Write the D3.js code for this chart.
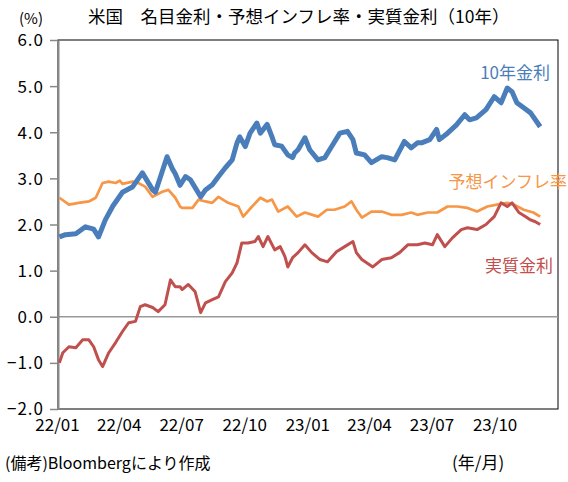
<!DOCTYPE html>
<html>
<head>
<meta charset="utf-8">
<script src="https://cdn.jsdelivr.net/npm/d3@7"></script>
<style>
  body { margin: 0; background: #fff; }
  svg text { font-family: "Noto Sans CJK JP", "Noto Sans", sans-serif; }
</style>
</head>
<body>
<svg id="chart" width="568" height="482"></svg>
<script>
"use strict";

// 10年金利 (nominal)
var nominal = [
  ["2022-01-03",1.73],["2022-01-12",1.78],["2022-01-27",1.80],["2022-02-10",1.95],["2022-02-22",1.90],
  ["2022-03-01",1.73],["2022-03-11",2.10],["2022-03-22",2.40],["2022-04-05",2.70],["2022-04-20",2.82],
  ["2022-05-04",3.12],["2022-05-19",2.75],["2022-05-23",2.70],["2022-06-09",3.47],["2022-06-17",3.20],
  ["2022-06-21",3.10],["2022-06-28",2.85],["2022-07-06",3.04],["2022-07-13",2.97],["2022-07-20",2.80],
  ["2022-07-28",2.60],["2022-08-04",2.75],["2022-08-14",2.86],["2022-08-23",3.04],["2022-09-02",3.23],
  ["2022-09-12",3.40],["2022-09-19",3.77],["2022-09-23",3.90],["2022-10-01",3.69],["2022-10-08",3.98],
  ["2022-10-18",4.20],["2022-10-23",3.98],["2022-11-02",4.17],["2022-11-09",3.90],["2022-11-13",3.73],
  ["2022-11-23",3.70],["2022-12-02",3.51],["2022-12-09",3.45],["2022-12-12",3.55],["2022-12-17",3.62],
  ["2022-12-27",3.88],["2023-01-03",3.62],["2023-01-15",3.40],["2023-01-25",3.45],["2023-02-04",3.69],
  ["2023-02-16",3.98],["2023-02-27",4.02],["2023-03-07",3.84],["2023-03-12",3.55],["2023-03-24",3.51],
  ["2023-04-03",3.34],["2023-04-18",3.47],["2023-04-26",3.45],["2023-05-07",3.40],["2023-05-21",3.80],
  ["2023-05-31",3.66],["2023-06-09",3.77],["2023-06-15",3.77],["2023-06-27",3.84],["2023-07-07",4.06],
  ["2023-07-11",3.84],["2023-07-23",3.98],["2023-08-05",4.16],["2023-08-17",4.38],["2023-08-24",4.27],
  ["2023-09-03",4.31],["2023-09-17",4.49],["2023-09-29",4.77],["2023-10-09",4.64],["2023-10-18",4.96],
  ["2023-10-25",4.88],["2023-11-01",4.64],["2023-11-11",4.53],["2023-11-21",4.42],["2023-11-28",4.27],
  ["2023-12-05",4.12]
];

// 予想インフレ率 (breakeven)
var breakeven = [
  ["2022-01-03",2.58],["2022-01-17",2.43],["2022-01-31",2.47],["2022-02-15",2.50],["2022-02-25",2.58],
  ["2022-03-07",2.90],["2022-03-16",2.93],["2022-03-26",2.90],["2022-04-01",2.95],["2022-04-05",2.88],
  ["2022-04-20",2.93],["2022-04-28",2.90],["2022-05-08",2.82],["2022-05-19",2.60],["2022-06-02",2.71],
  ["2022-06-11",2.75],["2022-06-21",2.58],["2022-06-28",2.39],["2022-07-01",2.36],["2022-07-16",2.36],
  ["2022-07-25",2.54],["2022-08-04",2.50],["2022-08-14",2.47],["2022-08-23",2.60],["2022-09-06",2.47],
  ["2022-09-21",2.39],["2022-09-28",2.17],["2022-10-11",2.39],["2022-10-23",2.58],["2022-11-02",2.50],
  ["2022-11-09",2.54],["2022-11-18",2.28],["2022-12-02",2.39],["2022-12-15",2.17],["2022-12-27",2.26],
  ["2023-01-15",2.17],["2023-01-28",2.32],["2023-02-08",2.32],["2023-02-23",2.39],["2023-03-05",2.50],
  ["2023-03-12",2.32],["2023-03-20",2.15],["2023-04-03",2.28],["2023-04-18",2.28],["2023-05-02",2.21],
  ["2023-05-17",2.21],["2023-05-31",2.26],["2023-06-09",2.21],["2023-06-24",2.26],["2023-07-08",2.26],
  ["2023-07-23",2.39],["2023-08-06",2.39],["2023-08-21",2.36],["2023-09-04",2.28],["2023-09-19",2.39],
  ["2023-10-03",2.43],["2023-10-18",2.47],["2023-10-28",2.43],["2023-11-11",2.32],["2023-11-25",2.26],
  ["2023-12-05",2.17]
];

// 実質金利 (real)
var real = [
  ["2022-01-03",-1.00],["2022-01-08",-0.78],["2022-01-17",-0.65],["2022-01-27",-0.67],["2022-02-06",-0.50],
  ["2022-02-15",-0.50],["2022-02-22",-0.65],["2022-03-01",-0.93],["2022-03-07",-1.08],["2022-03-16",-0.78],
  ["2022-03-26",-0.56],["2022-04-05",-0.32],["2022-04-14",-0.13],["2022-04-24",-0.10],["2022-05-01",0.22],
  ["2022-05-08",0.26],["2022-05-19",0.20],["2022-05-27",0.11],["2022-06-06",0.26],["2022-06-14",0.80],
  ["2022-06-21",0.65],["2022-06-28",0.65],["2022-07-01",0.59],["2022-07-10",0.70],["2022-07-20",0.54],
  ["2022-07-28",0.09],["2022-08-04",0.30],["2022-08-14",0.37],["2022-08-23",0.43],["2022-09-02",0.76],
  ["2022-09-12",0.95],["2022-09-19",1.17],["2022-09-26",1.60],["2022-10-05",1.60],["2022-10-15",1.63],
  ["2022-10-20",1.74],["2022-10-27",1.52],["2022-11-03",1.74],["2022-11-13",1.45],["2022-11-21",1.52],
  ["2022-11-28",1.30],["2022-12-02",1.08],["2022-12-09",1.28],["2022-12-17",1.39],["2022-12-27",1.56],
  ["2023-01-06",1.39],["2023-01-18",1.24],["2023-01-29",1.19],["2023-02-11",1.41],["2023-02-23",1.52],
  ["2023-03-07",1.63],["2023-03-12",1.39],["2023-03-20",1.24],["2023-04-05",1.08],["2023-04-18",1.24],
  ["2023-05-02",1.28],["2023-05-14",1.39],["2023-05-26",1.56],["2023-06-09",1.56],["2023-06-20",1.60],
  ["2023-07-01",1.56],["2023-07-08",1.78],["2023-07-19",1.52],["2023-07-30",1.71],["2023-08-12",1.89],
  ["2023-08-21",1.93],["2023-09-04",1.89],["2023-09-17",2.00],["2023-09-29",2.17],["2023-10-09",2.47],
  ["2023-10-18",2.39],["2023-10-25",2.47],["2023-11-04",2.26],["2023-11-14",2.17],["2023-11-21",2.10],
  ["2023-11-28",2.06],["2023-12-05",2.00]
];

var yTicks = [-2, -1, 0, 1, 2, 3, 4, 5, 6];
var xTicks = ["2022-01-01","2022-04-01","2022-07-01","2022-10-01","2023-01-01","2023-04-01","2023-07-01","2023-10-01"];

var parse = d3.timeParse("%Y-%m-%d");
var svg = d3.select("#chart");

var plotLeft = 58, plotRight = 558, plotTop = 40, plotBottom = 409;

var x = d3.scaleTime()
    .domain([parse("2022-01-01"), parse("2023-12-31")])
    .range([plotLeft, plotRight]);
var y = d3.scaleLinear().domain([-2, 6]).range([plotBottom, plotTop]);

// Frame
svg.append("rect")
    .attr("x", plotLeft).attr("y", plotTop)
    .attr("width", plotRight - plotLeft).attr("height", plotBottom - plotTop)
    .attr("fill", "none").attr("stroke", "#000").attr("stroke-width", 1);

// Zero line
svg.append("line")
    .attr("x1", plotLeft).attr("x2", plotRight)
    .attr("y1", y(0)).attr("y2", y(0))
    .attr("stroke", "#999").attr("stroke-width", 1.5);

// Y axis
var yAxis = svg.append("g")
    .attr("transform", "translate(" + plotLeft + ",0)")
    .call(d3.axisLeft(y).tickValues(yTicks).tickSize(8).tickSizeOuter(0)
        .tickFormat(d3.format(".1f")));
yAxis.select(".domain").attr("stroke", "#888").attr("stroke-width", 2);
yAxis.selectAll(".tick line").attr("stroke", "#888").attr("stroke-width", 1.5);
yAxis.selectAll(".tick text")
    .attr("x", -14).attr("dy", "0.35em")
    .attr("fill", "#000").style("font-size", "17px").style("letter-spacing", "1px");

// X axis labels
var xAxis = svg.append("g")
    .attr("transform", "translate(0," + plotBottom + ")")
    .call(d3.axisBottom(x).tickValues(xTicks.map(parse)).tickSize(0)
        .tickFormat(d3.timeFormat("%y/%m")));
xAxis.select(".domain").remove();
xAxis.selectAll(".tick text")
    .attr("y", 10).attr("dx", "-1px").attr("dy", "0.71em")
    .attr("fill", "#000").style("font-size", "17px");

// Series
var line = d3.line()
    .x(function(d) { return x(parse(d[0])); })
    .y(function(d) { return y(d[1]); });

svg.append("path").datum(breakeven)
    .attr("fill", "none").attr("stroke", "#F79646").attr("stroke-width", 2.7)
    .attr("stroke-linejoin", "round").attr("d", line);
svg.append("path").datum(real)
    .attr("fill", "none").attr("stroke", "#C0504D").attr("stroke-width", 3)
    .attr("stroke-linejoin", "round").attr("d", line);
svg.append("path").datum(nominal)
    .attr("fill", "none").attr("stroke", "#4A7EBB").attr("stroke-width", 5)
    .attr("stroke-linejoin", "round").attr("d", line);

// Series labels
svg.append("text").attr("x", 550).attr("y", 79).attr("text-anchor", "end")
    .attr("fill", "#4A7EBB").style("font-size", "17px").text("10年金利");
svg.append("text").attr("x", 567).attr("y", 188).attr("text-anchor", "end")
    .attr("fill", "#F79646").style("font-size", "17px").text("予想インフレ率");
svg.append("text").attr("x", 553).attr("y", 272).attr("text-anchor", "end")
    .attr("fill", "#C0504D").style("font-size", "17px").text("実質金利");

// Titles and notes
svg.append("text").attr("x", 88).attr("y", 23)
    .style("font-size", "17.5px").text("米国　名目金利・予想インフレ率・実質金利（10年）");
svg.append("text").attr("x", 19).attr("y", 24)
    .style("font-size", "15px").text("(%)");
svg.append("text").attr("x", 5).attr("y", 469)
    .style("font-size", "16px").text("(備考)Bloombergにより作成");
svg.append("text").attr("x", 452).attr("y", 469)
    .style("font-size", "17px").text("(年/月)");
</script>
</body>
</html>
